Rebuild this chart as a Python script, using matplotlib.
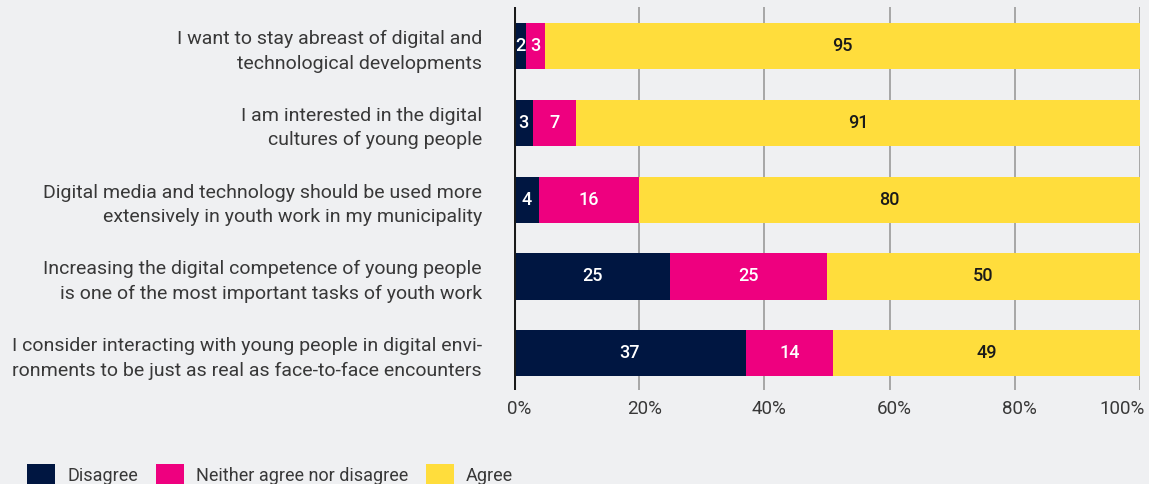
import matplotlib
matplotlib.use("Agg")
import matplotlib.pyplot as plt
import matplotlib.transforms as mtransforms
from matplotlib.patches import Patch
from matplotlib.ticker import FuncFormatter

plt.rcParams['font.family'] = ['Roboto', 'DejaVu Sans']

statements = [
    "I want to stay abreast of digital and\ntechnological developments",
    "I am interested in the digital\ncultures of young people",
    "Digital media and technology should be used more\nextensively in youth work in my municipality",
    "Increasing the digital competence of young people\nis one of the most important tasks of youth work",
    "I consider interacting with young people in digital envi-\nronments to be just as real as face-to-face encounters",
]
disagree = [2, 3, 4, 25, 37]
neither = [3, 7, 16, 25, 14]
agree = [95, 91, 80, 50, 49]
series_names = ["Disagree", "Neither agree nor disagree", "Agree"]
x_ticks = [0, 20, 40, 60, 80, 100]

colors = ["#001641", "#ee007f", "#ffdd3c"]
label_colors = ["white", "white", "#1a1a1a"]
bg = "#eff0f2"
text_col = "#383838"

fig = plt.figure(figsize=(11.49, 4.84), dpi=100, facecolor=bg)
ax = fig.add_axes([0.4473, 0.194, 0.5449, 0.7915], facecolor=bg)

series = [disagree, neither, agree]
ypos = list(range(len(statements)))
left = [0.0] * len(statements)
totals = [d + n + a for d, n, a in zip(disagree, neither, agree)]
for vals, col, lcol in zip(series, colors, label_colors):
    shares = [v / t * 100 for v, t in zip(vals, totals)]
    ax.barh(ypos, shares, left=left, height=0.6, color=col, zorder=3)
    for y, s, l, v in zip(ypos, shares, left, vals):
        ax.text(l + s / 2, y, f"{v}", ha="center", va="center", color=lcol,
                fontsize=13, fontweight="medium", zorder=4)
    left = [l + s for l, s in zip(left, shares)]

ax.set_xlim(0, 100)
ax.set_ylim(4.48, -0.51)
ax.set_xticks(x_ticks)
ax.xaxis.set_major_formatter(FuncFormatter(lambda v, p: f"{v:.0f}%"))
ax.set_yticks(ypos)
ax.set_yticklabels(statements, fontsize=14, color=text_col, linespacing=1.45)
ax.tick_params(axis="y", length=0, pad=23)
ax.tick_params(axis="x", length=0, pad=7, labelsize=13.5, labelcolor=text_col)
ax.grid(axis="x", color="#9a9a9a", linewidth=1.2, zorder=1)
for s in ax.spines.values():
    s.set_visible(False)
ax.axvline(0, color="#1a1a1a", linewidth=2.2, zorder=5)

# nudge percentage labels to the right; keep the last one inside the canvas
shift = mtransforms.ScaledTranslation(5 / 100, 0, fig.dpi_scale_trans)
xlabels = ax.get_xticklabels()
for lab in xlabels:
    lab.set_transform(lab.get_transform() + shift)
xlabels[-1].set_horizontalalignment("right")

handles = [Patch(facecolor=c, edgecolor="none") for c in colors]
fig.legend(handles, series_names, loc="center left",
           bbox_to_anchor=(27 / 1149, 1 - 475 / 484),
           ncol=3, frameon=False, fontsize=13, labelcolor=text_col,
           borderpad=0, borderaxespad=0,
           handlelength=1.55, handleheight=1.55, handletextpad=0.7, columnspacing=0.95)

fig.savefig("out.png", dpi=100, facecolor=bg)
